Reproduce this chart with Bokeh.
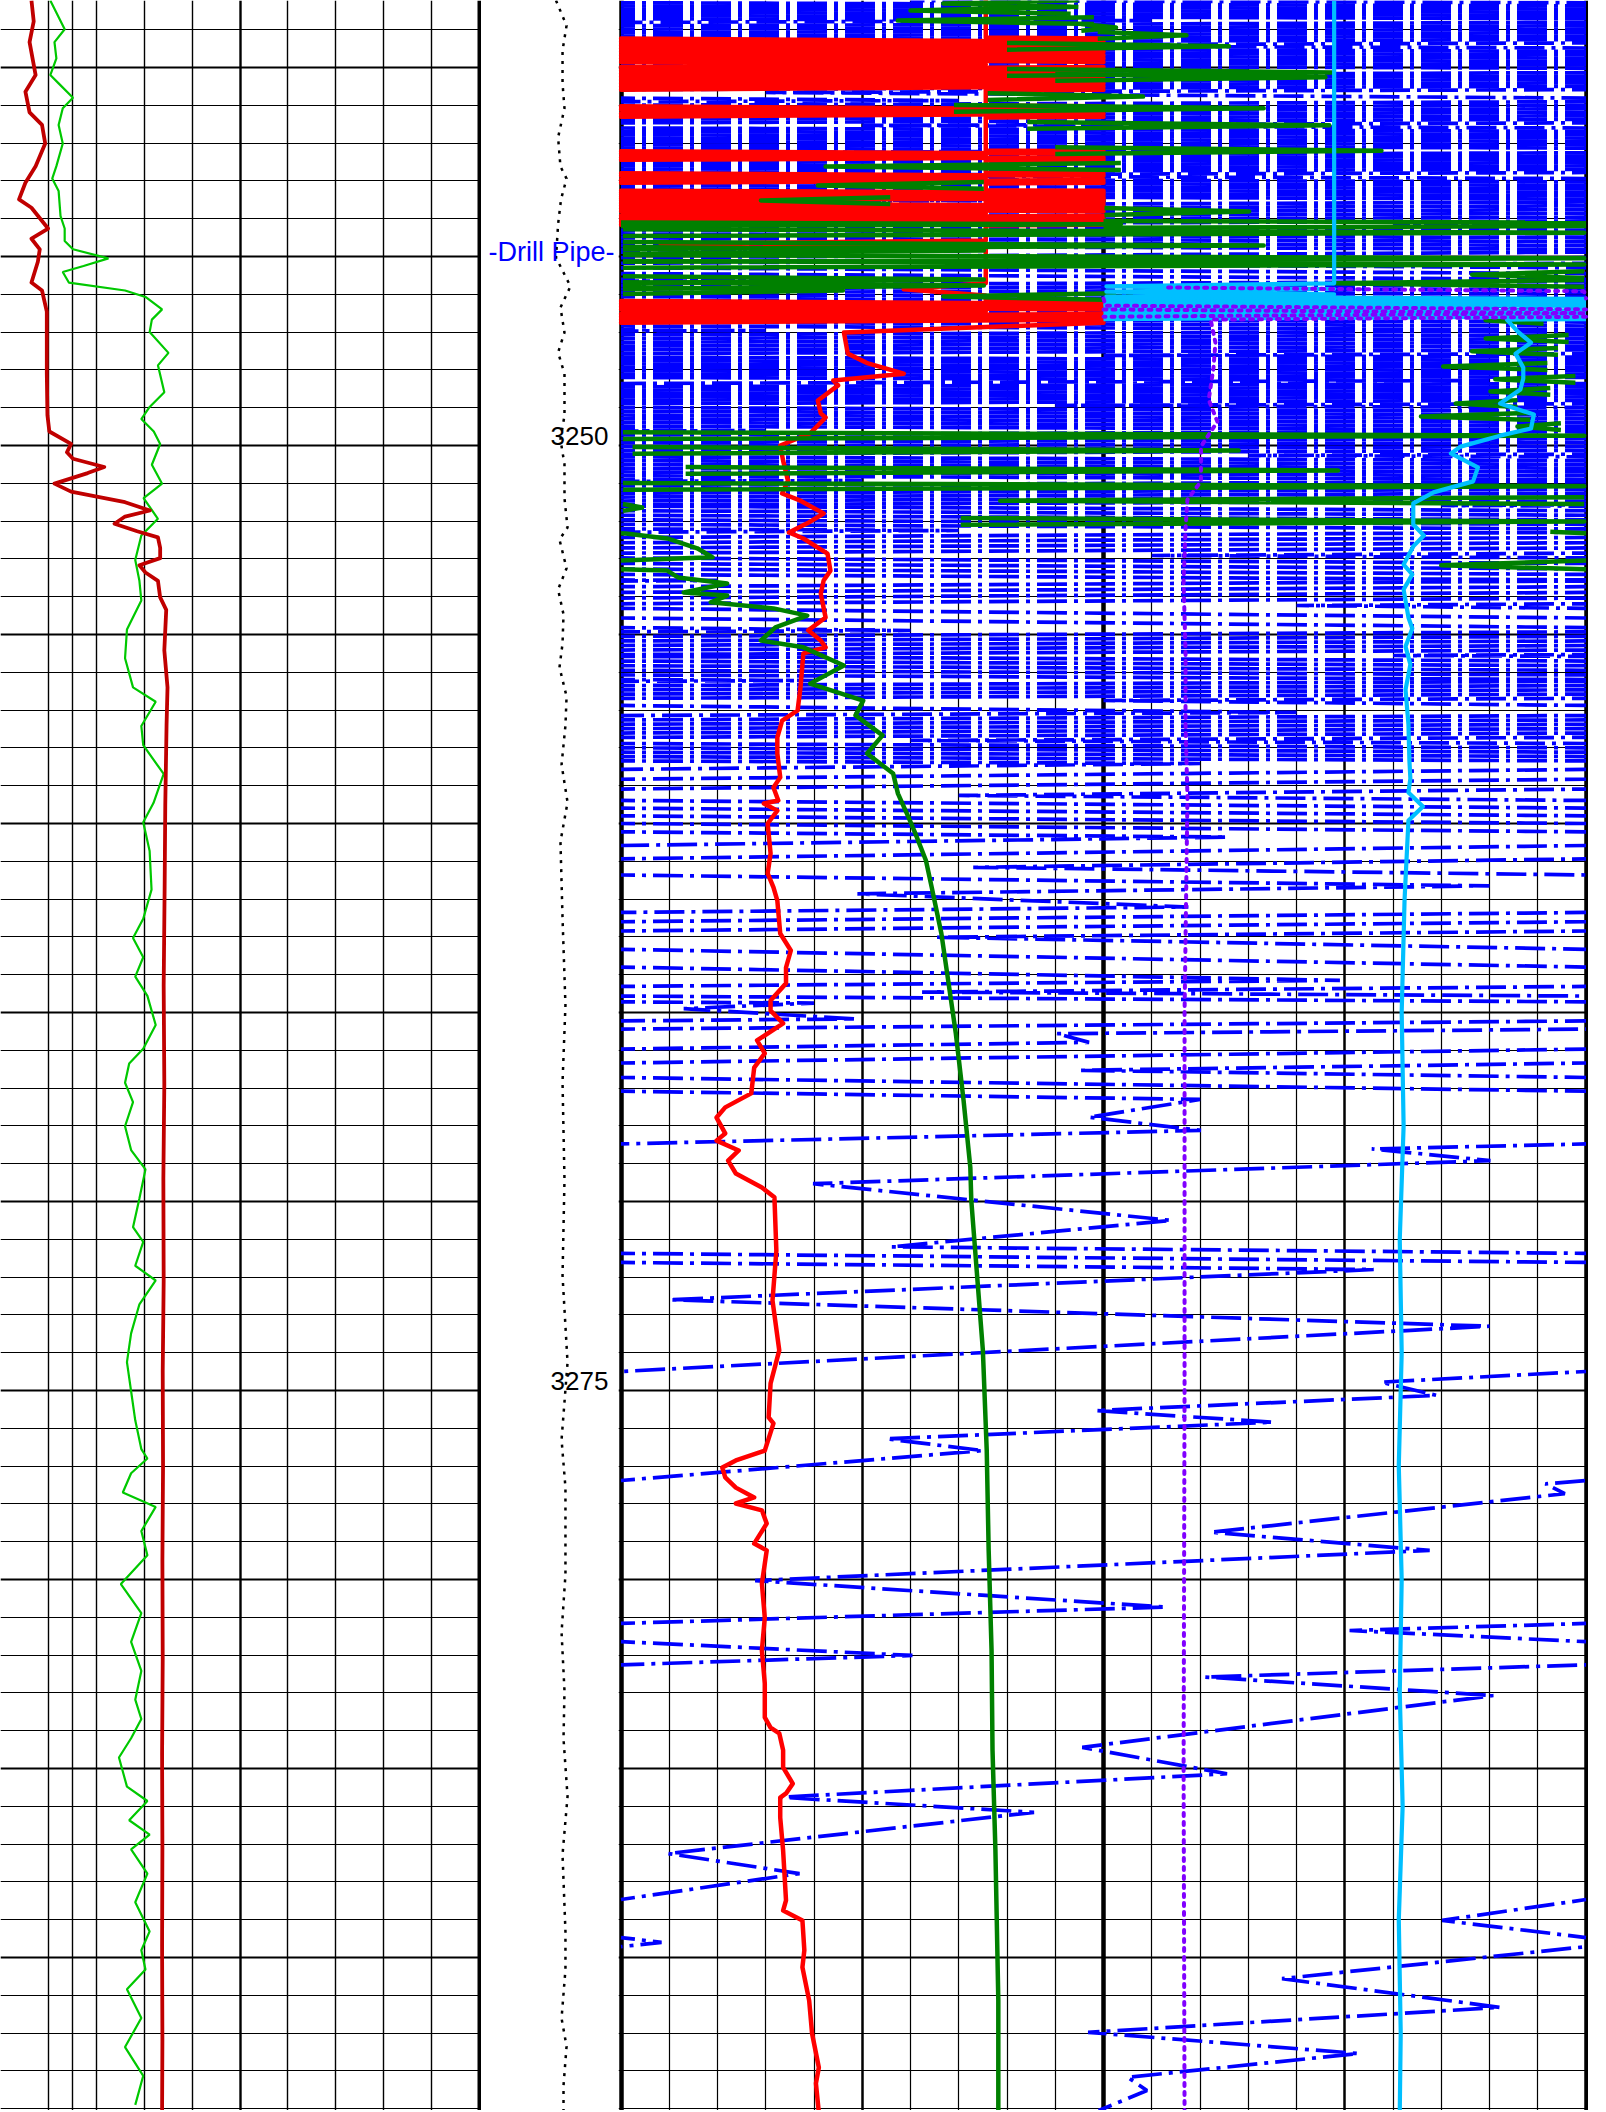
import math
from bokeh.plotting import figure
from bokeh.layouts import row
from bokeh.models import Range1d, Grid, FixedTicker
from bokeh.core.properties import value
from bokeh.embed import file_html
from bokeh.resources import INLINE

# ---------------- depth window ----------------
DEPTH_TOP = 3238.228
DEPTH_BOT = 3294.048

# ---------------- left track (scale 0-150) ----------------
lt_red_depth = [3238.23, 3238.78, 3239.33, 3240.20, 3240.64, 3241.19, 3241.52, 3242.01, 3242.61, 3243.05,
                3243.49, 3243.71, 3244.26, 3244.53, 3244.81, 3245.14, 3245.69, 3245.90, 3246.46, 3248.10,
                3249.20, 3249.63, 3249.96, 3250.18, 3250.35, 3250.57, 3250.73, 3251.01, 3251.22, 3251.50,
                3251.72, 3251.88, 3252.07, 3252.27, 3252.43, 3252.71, 3252.98, 3253.17, 3253.36, 3253.58,
                3254.02, 3254.35, 3255.42, 3256.40, 3257.40, 3259.50, 3261.70, 3264.30, 3266.90, 3269.40,
                3272.10, 3274.50, 3277.00, 3279.50, 3282.10, 3284.60, 3287.10, 3289.70, 3292.20, 3294.10]
lt_red_val = [9.7, 10.4, 9.1, 11.0, 7.8, 9.1, 13.0, 14.0, 11.0, 7.8,
              5.8, 9.7, 14.9, 9.7, 12.3, 11.7, 9.7, 13.0, 14.5, 14.5,
              14.7, 15.3, 22.1, 20.8, 22.7, 32.5, 27.3, 16.9, 22.1, 39.0,
              46.8, 39.0, 35.7, 42.8, 49.3, 50.0, 50.0, 43.5, 45.4, 49.3,
              50.0, 51.9, 51.3, 52.3, 52.0, 51.6, 51.4, 51.1, 51.3, 51.0,
              51.1, 50.8, 50.9, 50.7, 50.8, 50.6, 50.7, 50.6, 50.7, 50.6]

lt_grn_depth = [3238.23, 3238.99, 3239.33, 3239.76, 3240.20, 3240.42, 3240.80, 3241.08, 3241.52, 3242.01,
                3242.61, 3242.94, 3243.27, 3243.93, 3244.26, 3244.59, 3244.81, 3245.05, 3245.25, 3245.41,
                3245.69, 3245.90, 3246.07, 3246.40, 3246.67, 3247.00, 3247.55, 3247.88, 3248.59, 3248.98,
                3249.30, 3249.63, 3249.96, 3250.51, 3251.01, 3251.39, 3251.94, 3252.38, 3253.03, 3253.58,
                3254.10, 3254.87, 3255.63, 3256.40, 3256.78, 3257.42, 3257.93, 3258.69, 3259.46, 3259.97,
                3260.73, 3261.75, 3262.52, 3263.03, 3263.54, 3264.05, 3264.56, 3265.33, 3265.96, 3266.35,
                3266.86, 3267.37, 3268.01, 3268.64, 3269.15, 3269.92, 3270.68, 3271.07, 3271.70, 3272.09,
                3272.72, 3273.49, 3274.25, 3275.02, 3275.79, 3276.55, 3276.80, 3277.19, 3277.70, 3278.08,
                3278.72, 3279.36, 3280.12, 3280.89, 3281.65, 3282.42, 3283.18, 3283.69, 3284.20, 3284.71,
                3285.48, 3285.86, 3286.37, 3286.75, 3287.14, 3287.78, 3288.54, 3289.31, 3289.81, 3290.32,
                3290.84, 3291.60, 3292.37, 3293.13, 3293.90]
lt_grn_val = [15.6, 20.1, 16.9, 17.5, 15.6, 18.2, 22.7, 19.5, 18.2, 19.5,
              17.5, 16.2, 18.2, 18.8, 20.1, 20.1, 22.7, 33.8, 26.0, 19.5,
              21.4, 39.0, 45.4, 50.6, 47.4, 46.7, 52.6, 49.3, 51.3, 46.7,
              44.1, 48.0, 50.0, 47.4, 50.6, 44.8, 49.3, 44.1, 42.2, 43.5,
              44.1, 39.6, 39.0, 41.5, 48.6, 44.1, 44.7, 51.1, 47.9, 44.7,
              46.7, 47.3, 44.7, 41.5, 44.7, 42.2, 46.0, 48.6, 44.7, 40.3,
              39.0, 41.5, 39.0, 40.9, 45.4, 43.5, 41.5, 44.7, 42.2, 48.6,
              43.5, 40.9, 39.6, 40.9, 42.2, 44.1, 46.0, 40.9, 38.3, 48.6,
              44.1, 46.0, 37.7, 44.1, 40.9, 44.1, 42.2, 44.1, 40.9, 37.1,
              39.6, 46.0, 40.3, 46.7, 40.9, 46.0, 42.2, 46.7, 44.1, 45.4,
              39.6, 44.1, 39.0, 44.7, 42.2]

# ---------------- depth track ----------------
dt_line_depth = [3238.23, 3238.89, 3239.55, 3240.42, 3241.08, 3241.85, 3242.62, 3242.94, 3243.49, 3244.15,
                 3245.03, 3245.79, 3246.35, 3247.01, 3247.54, 3248.10, 3249.21, 3249.84, 3250.50, 3251.40,
                 3252.17, 3252.49, 3253.25, 3253.81, 3254.47, 3255.24, 3255.87, 3256.64, 3257.41, 3258.44,
                 3259.44, 3260.48, 3262.51, 3264.81, 3266.85, 3269.42, 3271.96, 3274.26, 3276.30, 3277.57,
                 3279.87, 3281.40, 3282.94, 3284.21, 3285.74, 3287.28, 3289.31, 3290.32, 3291.61, 3292.35,
                 3293.39, 3294.10]
dt_line_val = [53.6, 61.2, 58.3, 58.3, 59.7, 55.1, 56.8, 61.2, 57.2, 55.1,
               53.6, 64.0, 56.8, 59.7, 55.1, 59.7, 59.7, 56.8, 59.7, 59.7,
               61.9, 56.1, 61.2, 55.1, 59.0, 58.3, 56.1, 61.2, 60.4, 57.6,
               61.9, 56.8, 58.3, 60.4, 58.3, 59.7, 58.3, 61.9, 57.6, 60.4,
               60.4, 57.6, 59.7, 59.0, 61.9, 58.3, 60.4, 60.4, 57.6, 61.2,
               59.0, 59.0]
depth_labels = [3250, 3275]
marker_text = ["-Drill Pipe-"]
marker_depth = [3245.11]

# ---------------- right track (scale 0-100) ----------------
# red: wraps every 50 units (left half)
rt_red_depth = [3238.23, 3239.21, 3239.92, 3240.61, 3241.01, 3241.16, 3241.32, 3242.20, 3242.33, 3242.46,
                3242.78, 3242.92, 3243.07, 3243.25, 3243.39, 3243.52, 3243.57, 3243.86, 3244.18, 3244.58,
                3244.66, 3244.76, 3245.71, 3245.87, 3246.03, 3246.16, 3246.46, 3246.75,
                3247.01, 3247.57, 3247.83, 3248.10, 3248.28, 3248.41, 3248.81, 3249.15, 3249.26, 3249.68,
                3250.00, 3250.40, 3250.93, 3251.27, 3251.46, 3251.80, 3252.06, 3252.30, 3252.46, 3252.86,
                3253.31, 3253.57, 3253.92, 3254.55, 3254.89, 3255.16, 3255.34, 3255.50, 3256.40, 3257.01,
                3257.28, 3257.72, 3258.15, 3258.78, 3259.05, 3259.39, 3259.47, 3259.66, 3260.00, 3260.79,
                3261.32, 3261.69, 3262.04, 3262.91, 3263.36, 3263.81, 3264.23, 3264.68, 3264.95, 3265.29,
                3265.74, 3266.08, 3266.46, 3267.14, 3267.51, 3267.78, 3268.20, 3268.39, 3268.65, 3268.92,
                3269.26, 3269.63, 3269.89, 3271.30, 3272.62, 3273.94, 3274.81, 3275.71, 3275.87, 3276.59,
                3276.85, 3277.04, 3277.30, 3277.57, 3277.83, 3277.99, 3278.17, 3278.52, 3279.05, 3279.23,
                3280.11, 3281.01, 3281.88, 3282.75, 3283.65, 3283.92, 3284.07, 3284.52, 3284.97, 3285.40,
                3285.66, 3285.77, 3286.30, 3287.17, 3288.49, 3288.76, 3289.02, 3289.81, 3290.26, 3291.14,
                3292.01, 3292.91, 3293.33, 3294.10]
rt_red_val = [37.8, 37.8, 437.8, 37.8, 37.8, 137.8, 37.8, 37.8, 137.8, 37.8,
              37.8, 137.8, 37.8, 37.8, 187.8, 37.8, 37.8, 237.8, 37.8, 37.8,
              4.1, 37.8, 37.8, 29.3, 37.8, 37.8, 237.8, 49.9,
              23.1, 23.5, 25.6, 29.3, 22.0, 22.5, 20.4, 20.7, 21.2, 19.6,
              16.5, 16.8, 17.3, 16.7, 18.6, 21.0, 19.3, 17.4, 18.9, 21.4,
              21.7, 21.0, 20.7, 21.2, 19.4, 20.7, 21.2, 18.9, 18.6, 18.3,
              16.7, 16.2, 16.2, 16.5, 15.8, 16.3, 14.8, 16.2, 15.2, 15.5,
              15.2, 15.8, 16.2, 16.5, 17.6, 17.1, 17.1, 15.5, 15.5, 16.8,
              14.1, 14.9, 13.8, 13.5, 10.8, 9.9, 10.8, 9.9, 12.2, 11.1,
              11.9, 14.6, 15.9, 16.1, 15.7, 16.4, 15.5, 15.3, 15.8, 14.9,
              11.9, 10.5, 10.8, 11.9, 13.8, 11.9, 14.6, 15.1, 13.8, 15.1,
              14.6, 14.9, 14.6, 14.9, 14.9, 15.5, 16.4, 16.8, 16.8, 17.8,
              17.1, 16.5, 16.5, 16.8, 17.1, 16.8, 18.8, 19.0, 18.8, 19.5,
              19.8, 20.5, 20.2, 20.5]

# green: continuous lower part (wraps every 100)
rt_grn_depth = [3252.28, 3252.33, 3252.46, 3252.72, 3252.96, 3253.17, 3253.31, 3253.49, 3253.65, 3253.89,
                3253.97, 3254.15, 3254.31, 3254.50, 3254.81, 3255.16, 3255.34, 3255.82, 3256.30, 3256.75,
                3257.14, 3257.67, 3258.15, 3258.68, 3259.21, 3259.84, 3260.26, 3260.98, 3261.69, 3262.91,
                3263.97, 3265.56, 3267.33, 3269.10, 3269.97, 3273.94, 3276.59, 3279.23, 3281.88, 3284.52,
                3287.17, 3291.14, 3294.10]
rt_grn_val = [-3.7, 0.5, 4.8, 7.9, 9.5, -15.0, 4.8, 5.9, 11.0, 6.5,
              11.0, 9.3, 15.8, 19.3, 16.0, 14.5, 18.9, 23.1, 19.6, 25.1,
              24.3, 27.1, 25.5, 28.2, 28.7, 29.8, 30.5, 31.6, 32.2, 33.2,
              33.8, 34.7, 35.5, 36.2, 36.3, 37.5, 37.9, 38.1, 38.4, 38.5,
              38.8, 39.1, 39.1]
# green: excursions in the upper part (depth of tip, base value, tip value)
grn_spike_depth = [3238.31, 3238.49, 3238.76, 3238.94, 3239.15, 3239.44, 3240.13, 3240.26, 3240.77, 3241.08,
                   3241.53, 3242.20, 3242.62, 3243.12, 3243.52, 3243.81, 3244.15, 3244.37, 3244.71, 3244.84,
                   3245.05, 3245.21, 3245.48, 3245.61, 3245.71, 3245.77, 3245.90, 3246.06, 3246.69, 3247.17,
                   3247.51, 3247.91, 3248.25, 3248.57, 3248.89, 3249.23, 3249.50, 3249.74, 3250.13, 3250.66,
                   3251.08, 3251.46, 3251.64, 3252.01]
grn_spike_base = [47.4, 46.6, 49.0, 47.7, 49.4, 40.0, 40.0, 45.0, 38.0, 34.5,
                  42.1, 45.0, 51.8, 37.6, 27.9, 50.1, 50.0, 100.2, 0.2, 0.2,
                  0.2, 0.2, 99.8, 0.2, 99.8, 0.2, 0.2, 51.3, 95.6, 98.2,
                  97.1, 96.0, 98.9, 96.3, 92.9, 94.2, 97.4, 0.2, 1.2, 6.7,
                  0.2, 99.8, 0.2, 35.2]
grn_spike_tip = [33.4, 30.0, 28.7, 51.3, 58.6, 63.0, 73.7, 73.0, 54.1, 66.6,
                 73.4, 78.8, 21.2, 20.4, 14.5, 65.1, 151.8, 199.8, 66.6, 37.6,
                 99.8, 99.8, 88.2, 37.6, 73.7, 37.6, 23.0, 33.4, 89.6, 89.6,
                 88.2, 85.2, 90.6, 90.1, 86.5, 82.9, 92.9, 99.8, 64.0, 74.3,
                 99.8, 39.3, 2.2, 99.8]

# cyan: wraps every 50 units in the right half
rt_cyan_depth = [3238.23, 3245.71, 3245.79, 3245.86, 3245.93, 3246.00, 3246.06, 3246.36, 3246.67, 3246.98,
                 3247.28, 3247.57, 3247.94, 3248.23, 3248.52, 3248.89, 3249.18, 3249.55, 3249.74, 3250.03,
                 3250.21, 3250.58, 3250.95, 3251.24, 3251.53, 3252.09, 3252.38, 3252.67, 3253.15, 3253.41,
                 3253.81, 3254.55, 3254.84, 3255.32, 3255.79, 3256.46, 3257.38, 3258.33, 3258.81, 3259.18,
                 3259.55, 3259.92, 3262.00, 3265.00, 3268.00, 3271.00, 3274.00, 3277.00, 3280.00, 3283.00,
                 3286.00, 3289.00, 3292.00, 3294.10]
rt_cyan_val = [23.9, 23.9, 0.3, 23.9, 0.3, 23.9, 0.3, 240.0, 41.8, 42.9,
               44.3, 42.7, 43.5, 43.5, 43.2, 41.1, 44.6, 44.3, 41.1, 37.0,
               36.0, 38.8, 38.3, 34.2, 32.1, 32.1, 33.2, 32.1, 31.1, 32.0,
               31.1, 31.6, 32.0, 31.3, 31.8, 31.3, 31.6, 31.7, 31.8, 31.6,
               33.1, 31.6, 31.2, 30.9, 31.1, 30.7, 30.9, 30.6, 30.9, 30.7,
               31.0, 30.6, 30.8, 30.7]

# purple (dotted): wraps every 50 units in the right half
rt_purp_depth = [3245.82, 3245.92, 3246.30, 3246.50, 3246.67, 3247.28, 3247.94, 3248.79, 3249.37, 3250.03,
                 3250.95, 3251.43, 3252.20, 3253.60, 3255.50, 3257.38, 3259.29, 3265.00, 3275.00, 3285.00,
                 3294.10]
rt_purp_val = [6.7, 49.8, 50.2, 150.0, 61.1, 61.6, 61.4, 60.9, 61.8, 60.1,
               60.1, 58.7, 58.5, 58.3, 58.5, 58.5, 58.7, 58.4, 58.4, 58.3,
               58.4]

# blue (dash-dot): wraps every 100 units
rt_blue_depth = [3238.228, 3238.757, 3239.418, 3240.079, 3240.661, 3240.873, 3241.534, 3242.196, 3242.857, 3243.519,
                 3244.180, 3244.841, 3245.238, 3245.635, 3246.296, 3246.958, 3247.619, 3248.280, 3248.942, 3249.603,
                 3250.265, 3250.926, 3251.587, 3252.249, 3252.910, 3253.571, 3254.233, 3254.894, 3255.556, 3256.217,
                 3256.746, 3257.063, 3257.804, 3258.413, 3259.259, 3260.000,
                 3260.36, 3261.16, 3261.65, 3261.86, 3262.21, 3263.01, 3264.15, 3264.46, 3264.75, 3264.90,
                 3265.17, 3265.56, 3265.79, 3266.53, 3267.30, 3267.77, 3268.12, 3268.61, 3268.92, 3269.53,
                 3270.50, 3271.20, 3271.80, 3272.60, 3273.30, 3274.78, 3275.13, 3275.53, 3275.84,
                 3276.28, 3276.59, 3277.47, 3277.73, 3278.75, 3279.23, 3280.03, 3280.73, 3281.35, 3282.01,
                 3282.58, 3283.07, 3284.44, 3285.14, 3285.76, 3286.16, 3287.25, 3287.78, 3289.02, 3289.60,
                 3290.56, 3291.32, 3291.98, 3292.54, 3293.17, 3293.52, 3294.05]
rt_blue_val = [630, 1255, 525, 1265, 615, 735, 25, 770, 10, 740,
               80, 730, 460, 720, 75, 715, 50, 790, 45, 715,
               65, 725, 85, 635, 155, 610, 170, 430, -120, 420,
               -50, 70, -570, -40, -365, 0,
               162.8, -63.5, 90.0, 24.5, 58.8, -267.5, -25.5, -168.8, 20.0, 6.5,
               24.2, -154.8, -151.5, -352.5, -140.0, -151.5, -139.9, -222.2, -209.9, -280.1,
               -243.0, -272.0, -22.0, -95.0, -10.0, -121.2, -115.5, -150.8, -132.5,
               -172.5, -162.5, -204.2, -202.2, -238.9, -216.2, -286.1, -243.5, -324.5, -269.8,
               -339.5, -309.6, -352.2, -337.2, -383.5, -357.2, -395.1, -381.5, -414.9, -395.8,
               -431.5, -408.9, -451.6, -423.6, -447.5, -445.5, -450.5]


# ---------------- helpers ----------------
def wrap_path(depths, raws, width):
    """Split a curve into pieces that wrap around a track of given width."""
    pieces = []
    band = math.floor(raws[0] / width)
    xs, ys = [raws[0] - band * width], [depths[0]]
    for i in range(1, len(raws)):
        d0, r0 = depths[i - 1], raws[i - 1]
        d1, r1 = depths[i], raws[i]
        while True:
            lo, hi = band * width, (band + 1) * width
            if r1 > hi:
                t = (hi - r0) / (r1 - r0)
                dc = d0 + t * (d1 - d0)
                xs.append(width); ys.append(dc)
                pieces.append((xs, ys))
                band += 1
                xs, ys = [0.0], [dc]
            elif r1 < lo:
                t = (lo - r0) / (r1 - r0)
                dc = d0 + t * (d1 - d0)
                xs.append(0.0); ys.append(dc)
                pieces.append((xs, ys))
                band -= 1
                xs, ys = [width], [dc]
            else:
                xs.append(r1 - band * width); ys.append(d1)
                break
    pieces.append((xs, ys))
    return pieces


def add_grid(p, dim, ticks, width):
    g = Grid(dimension=dim, ticker=FixedTicker(ticks=ticks),
             grid_line_color="black", grid_line_width=width)
    p.add_layout(g)


def make_fig(width, x0, x1):
    p = figure(width=width, height=2110, output_backend="svg", toolbar_location=None, tools="",
               x_range=Range1d(x0, x1), y_range=Range1d(DEPTH_BOT, DEPTH_TOP),
               x_axis_location=None, y_axis_location=None, min_border=0)
    p.center = [r for r in p.center if not isinstance(r, Grid)]
    p.outline_line_color = None
    p.background_fill_color = "white"
    p.border_fill_color = "white"
    return p


depth_minor = [d for d in range(3236, 3296) if d % 5 != 0]
depth_major = [d for d in range(3236, 3296) if d % 5 == 0]

# ---------------- left track ----------------
pl = make_fig(481, 0, 481 * 150 / 479)
add_grid(pl, 1, depth_minor, 1)
add_grid(pl, 1, depth_major, 2)
add_grid(pl, 0, [15, 22.5, 30, 45, 60, 90, 105, 120, 135], 1.4)
add_grid(pl, 0, [75], 2.4)
add_grid(pl, 0, [0, 150], 4)
pl.line(lt_grn_val, lt_grn_depth, line_color="#00C800", line_width=2.2)
pl.line(lt_red_val, lt_red_depth, line_color="#C00000", line_width=3.8, line_join="round")

# ---------------- depth track ----------------
pd_ = make_fig(137, 0, 137 / 1.39)
pd_.line(dt_line_val, dt_line_depth, line_color="black", line_width=2.5, line_dash="3 6")
pd_.text(x=[70.5] * len(depth_labels), y=depth_labels, text=[str(d) for d in depth_labels],
         text_font=value("Liberation Sans"), text_font_size="26px", text_color="black",
         text_align="center", text_baseline="alphabetic", y_offset=-9)
pd_.text(x=[50.4], y=marker_depth, text=marker_text,
         text_font=value("Liberation Sans"), text_font_size="27px", text_color="#0000FF",
         text_align="center", text_baseline="alphabetic", y_offset=-9)

# ---------------- right track ----------------
pr = make_fig(970, -2.5 / 9.65, 967.5 / 9.65)
add_grid(pr, 1, depth_minor, 1)
add_grid(pr, 1, depth_major, 2)
add_grid(pr, 0, [v for v in range(5, 100, 5) if v not in (25, 50, 75)], 1.2)
add_grid(pr, 0, [25, 75], 2.5)
add_grid(pr, 0, [0, 50, 100], 4.5)

# blue dash-dot, pieces oriented from left to right
bx, by = [], []
for xs, ys in wrap_path(rt_blue_depth, rt_blue_val, 100):
    if xs[0] > xs[-1]:
        xs, ys = xs[::-1], ys[::-1]
    bx.append(xs); by.append(ys)
pr.multi_line(bx, by, line_color="#0000FF", line_width=3.7, line_dash="30 7 4 7", line_dash_offset=16)

# red (wrap 50, left half)
rx, ry = zip(*wrap_path(rt_red_depth, rt_red_val, 50))
pr.multi_line(list(rx), list(ry), line_color="#FF0000", line_width=4.5, line_join="round", line_cap="round")

# green
gx, gy = [], []
for xs, ys in wrap_path(rt_grn_depth, rt_grn_val, 100):
    gx.append(xs); gy.append(ys)
h = 0.09
for d, b, t in zip(grn_spike_depth, grn_spike_base, grn_spike_tip):
    for xs, ys in wrap_path([d - h, d, d + h], [b, t, b], 100):
        gx.append(xs); gy.append(ys)
pr.multi_line(gx, gy, line_color="#008000", line_width=4.5, line_join="round")

# cyan (wrap 50, right half)
cx, cy = [], []
for xs, ys in wrap_path(rt_cyan_depth, rt_cyan_val, 50):
    cx.append([x + 50 for x in xs]); cy.append(ys)
pr.multi_line(cx, cy, line_color="#00BFFF", line_width=4.2, line_join="round")

# purple dotted (wrap 50, right half)
ux, uy = [], []
for xs, ys in wrap_path(rt_purp_depth, rt_purp_val, 50):
    ux.append([x + 50 for x in xs]); uy.append(ys)
pr.multi_line(ux, uy, line_color="#8000FF", line_width=4, line_dash="3 6", line_cap="round")

layout = row(pl, pd_, pr)
open("out.html", "w").write(file_html(layout, INLINE))
